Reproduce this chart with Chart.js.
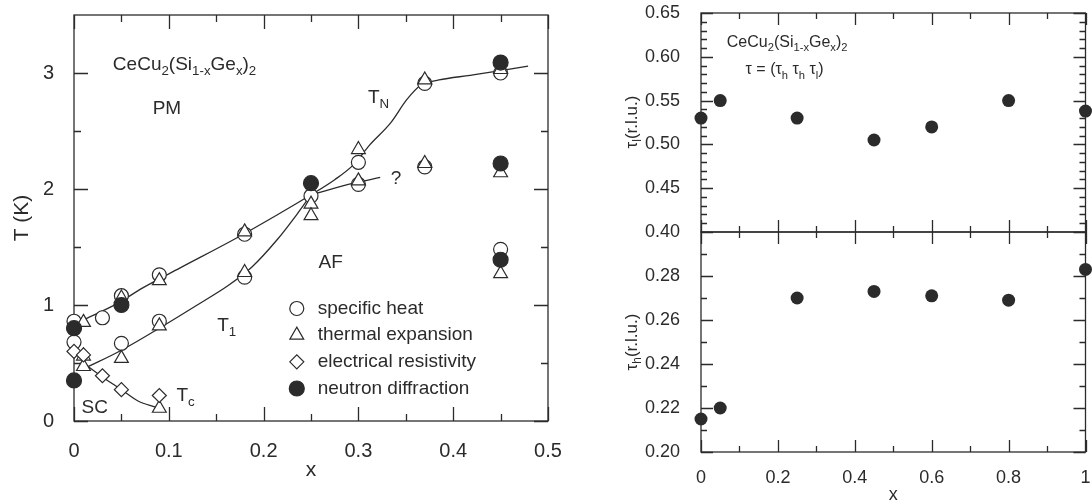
<!DOCTYPE html>
<html>
<head>
<meta charset="utf-8">
<script src="https://cdn.jsdelivr.net/npm/chart.js@4.4.1/dist/chart.umd.min.js"></script>
<style>
  html, body { margin: 0; padding: 0; background: #fff; }
  .wrap { position: relative; width: 1092px; height: 504px; }
  canvas { position: absolute; left: 0; top: 0; }
</style>
</head>
<body>
<div class="wrap">
  <canvas id="phase" width="1092" height="504"></canvas>
  <canvas id="tauL" width="1092" height="504"></canvas>
  <canvas id="tauH" width="1092" height="504"></canvas>
</div>
<script>
const FONT = '"Liberation Sans", Arial, Helvetica, sans-serif';
const INK = '#2b2b2b';

// ---- phase diagram (left) ----
const heatX = [0, 0, 0.03, 0.05, 0.05, 0.09, 0.09, 0.18, 0.18, 0.25, 0.30, 0.30, 0.37, 0.37, 0.45, 0.45];
const heatT = [0.86, 0.68, 0.89, 1.08, 0.67, 1.26, 0.86, 1.61, 1.24, 1.94, 2.23, 2.04, 2.91, 2.19, 3.00, 1.48];

const expX = [0.01, 0.01, 0.01, 0.05, 0.05, 0.09, 0.09, 0.09, 0.18, 0.18, 0.25, 0.25, 0.30, 0.30, 0.37, 0.37, 0.45, 0.45, 0.45];
const expT = [0.85, 0.56, 0.47, 1.06, 0.54, 1.21, 0.82, 0.11, 1.63, 1.28, 1.87, 1.77, 2.34, 2.07, 2.94, 2.22, 3.03, 2.14, 1.27];

const resX = [0, 0.01, 0.03, 0.05, 0.09];
const resT = [0.60, 0.57, 0.39, 0.27, 0.22];

const neutronX = [0, 0, 0.05, 0.25, 0.45, 0.45, 0.45];
const neutronT = [0.80, 0.35, 1.00, 2.05, 3.09, 2.22, 1.39];

// guide lines drawn by hand in the original
const tnX = [0.012, 0.045, 0.073, 0.112, 0.172, 0.215, 0.25, 0.275, 0.295, 0.312, 0.334, 0.351, 0.365, 0.385, 0.418, 0.45, 0.479];
const tnT = [0.88, 1.01, 1.15, 1.32, 1.58, 1.78, 1.95, 2.08, 2.21, 2.38, 2.57, 2.77, 2.89, 2.94, 2.98, 3.02, 3.06];
const t1X = [0.013, 0.05, 0.09, 0.13, 0.163, 0.188, 0.214, 0.235, 0.25];
const t1T = [0.46, 0.61, 0.80, 1.00, 1.17, 1.33, 1.56, 1.78, 1.95];
const qX = [0.25, 0.295, 0.323];
const qT = [1.95, 2.05, 2.10];
const tcX = [0.01, 0.03, 0.05, 0.068, 0.086];
const tcT = [0.50, 0.38, 0.27, 0.17, 0.12];

const phaseXMajor = [0, 0.1, 0.2, 0.3, 0.4, 0.5];
const phaseXLabels = ['0', '0.1', '0.2', '0.3', '0.4', '0.5'];
const phaseXMinor = [0.05, 0.15, 0.25, 0.35, 0.45];
const phaseYMajor = [0, 1, 2, 3];
const phaseYLabels = ['0', '1', '2', '3'];
const phaseYMinor = [0.5, 1.5, 2.5];

// ---- propagation vector (right) ----
const tauX = [0, 0.05, 0.25, 0.45, 0.6, 0.8, 1.0];
const tauL = [0.530, 0.550, 0.530, 0.505, 0.520, 0.550, 0.538];
const tauH = [0.215, 0.220, 0.270, 0.273, 0.271, 0.269, 0.283];

const tauXMajor = [0, 0.2, 0.4, 0.6, 0.8, 1];
const tauXLabels = ['0', '0.2', '0.4', '0.6', '0.8', '1'];
const tauXMinor = [0.1, 0.3, 0.5, 0.7, 0.9];
const tauLMajor = [0.40, 0.45, 0.50, 0.55, 0.60, 0.65];
const tauLLabels = ['0.40', '0.45', '0.50', '0.55', '0.60', '0.65'];
const tauLMinor = [0.41, 0.42, 0.43, 0.44, 0.46, 0.47, 0.48, 0.49, 0.51, 0.52, 0.53, 0.54, 0.56, 0.57, 0.58, 0.59, 0.61, 0.62, 0.63, 0.64];
const tauHMajor = [0.20, 0.22, 0.24, 0.26, 0.28];
const tauHLabels = ['0.20', '0.22', '0.24', '0.26', '0.28'];
const tauHMinor = [0.21, 0.23, 0.25, 0.27, 0.29];

const pts = (xs, ys) => xs.map((x, i) => ({ x, y: ys[i] }));

function fixedSize(size, horizontal) {
    return (scale) => {
        if (horizontal) scale.height = size; else scale.width = size;
        scale.paddingLeft = 0; scale.paddingRight = 0;
        scale.paddingTop = 0; scale.paddingBottom = 0;
    };
}

function setTicks(values) {
    return (scale) => { scale.ticks = values.map(v => ({ value: v })); };
}

function richText(ctx, parts, x, y, size) {
    let cx = x;
    for (const [t, sub] of parts) {
        ctx.font = (sub ? size * 0.7 : size) + 'px ' + FONT;
        ctx.fillText(t, cx, sub ? y + size * 0.35 : y);
        cx += ctx.measureText(t).width;
    }
    return cx - x;
}

function richWidth(ctx, parts, size) {
    let w = 0;
    for (const [t, sub] of parts) {
        ctx.font = (sub ? size * 0.7 : size) + 'px ' + FONT;
        w += ctx.measureText(t).width;
    }
    return w;
}

// frame and inward ticks on all four sides
const framePlugin = {
    id: 'frame',
    beforeDatasetsDraw(chart) {
        const f = chart.options.plugins.frame;
        const { ctx, chartArea: a } = chart;
        const xs = chart.scales.x, ys = chart.scales.y;
        ctx.save();
        ctx.strokeStyle = INK;
        ctx.lineWidth = 1.3;
        ctx.strokeRect(a.left, a.top, a.right - a.left, a.bottom - a.top);
        ctx.beginPath();
        const xt = (vals, len) => vals.forEach(v => {
            const p = Math.round(xs.getPixelForValue(v)) + 0.5;
            ctx.moveTo(p, a.bottom); ctx.lineTo(p, a.bottom - len);
            ctx.moveTo(p, a.top); ctx.lineTo(p, a.top + len);
        });
        const yt = (vals, len) => vals.forEach(v => {
            const p = Math.round(ys.getPixelForValue(v)) + 0.5;
            ctx.moveTo(a.left, p); ctx.lineTo(a.left + len, p);
            ctx.moveTo(a.right, p); ctx.lineTo(a.right - len, p);
        });
        xt(f.xMajor, f.major); xt(f.xMinor, f.minor);
        yt(f.yMajor, f.major); yt(f.yMinor, f.minor);
        ctx.stroke();
        ctx.restore();
    }
};

function marker(ctx, style, x, y, r, fill) {
    ctx.fillStyle = fill;
    ctx.beginPath();
    if (style === 'circle') {
        ctx.arc(x, y, r, 0, Math.PI * 2);
    } else if (style === 'triangle') {
        for (let k = 0; k < 3; k++) {
            const ang = k * 2 * Math.PI / 3;
            const px = x + Math.sin(ang) * r, py = y - Math.cos(ang) * r;
            k ? ctx.lineTo(px, py) : ctx.moveTo(px, py);
        }
        ctx.closePath();
    } else {
        ctx.moveTo(x - r, y); ctx.lineTo(x, y - r); ctx.lineTo(x + r, y); ctx.lineTo(x, y + r);
        ctx.closePath();
    }
    ctx.fill();
    ctx.stroke();
}

const phaseNotes = {
    id: 'phaseNotes',
    afterDatasetsDraw(chart) {
        const { ctx } = chart;
        const X = v => chart.scales.x.getPixelForValue(v);
        const Y = v => chart.scales.y.getPixelForValue(v);
        ctx.save();
        ctx.fillStyle = INK;
        ctx.textBaseline = 'middle';
        ctx.textAlign = 'left';
        richText(ctx, [['CeCu', 0], ['2', 1], ['(Si', 0], ['1-x', 1], ['Ge', 0], ['x', 1], [')', 0], ['2', 1]], X(0.041), Y(3.07), 19);
        richText(ctx, [['PM', 0]], X(0.083), Y(2.69), 19);
        richText(ctx, [['T', 0], ['N', 1]], X(0.31), Y(2.79), 19);
        richText(ctx, [['?', 0]], X(0.334), Y(2.09), 19);
        richText(ctx, [['AF', 0]], X(0.258), Y(1.36), 19);
        richText(ctx, [['T', 0], ['1', 1]], X(0.151), Y(0.82), 19);
        richText(ctx, [['T', 0], ['c', 1]], X(0.108), Y(0.22), 19);
        richText(ctx, [['SC', 0]], X(0.008), Y(0.11), 19);

        // legend
        const rows = [
            ['specific heat', 'circle', 7, '#fff'],
            ['thermal expansion', 'triangle', 8, '#fff'],
            ['electrical resistivity', 'diamond', 7, '#fff'],
            ['neutron diffraction', 'circle', 7.5, INK],
        ];
        const legendT = [0.97, 0.74, 0.51, 0.28];
        ctx.strokeStyle = INK;
        ctx.lineWidth = 1.2;
        rows.forEach((r, i) => {
            const y = Y(legendT[i]);
            marker(ctx, r[1], X(0.235), y, r[2], r[3]);
            ctx.fillStyle = INK;
            ctx.font = '19px ' + FONT;
            ctx.fillText(r[0], X(0.257), y);
        });
        ctx.restore();
    }
};

const lineSet = (xs, ys) => ({
    data: pts(xs, ys), showLine: true, pointRadius: 0, borderColor: INK,
    borderWidth: 1.3, cubicInterpolationMode: 'monotone', fill: false, clip: false
});

const markerSet = (xs, ys, style, r, fill) => ({
    data: pts(xs, ys), pointStyle: style, pointRadius: r, backgroundColor: fill,
    borderColor: INK, pointBorderWidth: 1.2, clip: false
});

new Chart(document.getElementById('phase').getContext('2d'), {
    type: 'scatter',
    data: {
        datasets: [
            markerSet(neutronX, neutronT, 'circle', 7.5, INK),
            markerSet(resX, resT, 'rectRot', 7, '#fff'),
            markerSet(expX, expT, 'triangle', 8, '#fff'),
            markerSet(heatX, heatT, 'circle', 7, '#fff'),
            lineSet(tnX, tnT),
            lineSet(t1X, t1T),
            lineSet(qX, qT),
            lineSet(tcX, tcT),
        ]
    },
    options: {
        responsive: false,
        animation: false,
        events: [],
        layout: { padding: { left: 0, top: 15, right: 544, bottom: 0 } },
        scales: {
            x: {
                type: 'linear', min: 0, max: 0.5,
                afterFit: fixedSize(83, true),
                afterBuildTicks: setTicks(phaseXMajor),
                grid: { display: false }, border: { display: false },
                ticks: { autoSkip: false, maxRotation: 0, padding: 10, color: INK,
                    font: { family: FONT, size: 20 }, callback: (v, i) => phaseXLabels[i] },
                title: { display: true, text: 'x', color: INK, padding: { top: 0, bottom: 21 },
                    font: { family: FONT, size: 21 } }
            },
            y: {
                type: 'linear', min: 0, max: 3.5,
                afterFit: fixedSize(74, false),
                afterBuildTicks: setTicks(phaseYMajor),
                grid: { display: false }, border: { display: false },
                ticks: { autoSkip: false, padding: 12, color: INK,
                    font: { family: FONT, size: 20 }, callback: (v, i) => phaseYLabels[i] },
                title: { display: true, text: 'T (K)', color: INK, padding: { top: 10, bottom: 0 },
                    font: { family: FONT, size: 21 } }
            }
        },
        plugins: {
            legend: { display: false },
            tooltip: { enabled: false },
            frame: { xMajor: phaseXMajor, xMinor: phaseXMinor, yMajor: phaseYMajor, yMinor: phaseYMinor, major: 14, minor: 7 }
        }
    },
    plugins: [framePlugin, phaseNotes]
});

function tauTitle(parts, centerY) {
    return {
        id: 'tauTitle',
        afterDraw(chart) {
            const { ctx } = chart;
            ctx.save();
            ctx.fillStyle = INK;
            ctx.textBaseline = 'middle';
            ctx.textAlign = 'left';
            ctx.translate(632, centerY);
            ctx.rotate(-Math.PI / 2);
            const w = richWidth(ctx, parts, 17);
            richText(ctx, parts, -w / 2, 0, 17);
            ctx.restore();
        }
    };
}

const tauNotes = {
    id: 'tauNotes',
    afterDatasetsDraw(chart) {
        const { ctx } = chart;
        const X = v => chart.scales.x.getPixelForValue(v);
        const Y = v => chart.scales.y.getPixelForValue(v);
        ctx.save();
        ctx.fillStyle = INK;
        ctx.textBaseline = 'middle';
        ctx.textAlign = 'left';
        richText(ctx, [['CeCu', 0], ['2', 1], ['(Si', 0], ['1-x', 1], ['Ge', 0], ['x', 1], [')', 0], ['2', 1]], X(0.067), Y(0.616), 16);
        richText(ctx, [['\u03c4 = (\u03c4', 0], ['h', 1], [' \u03c4', 0], ['h', 1], [' \u03c4', 0], ['l', 1], [')', 0]], X(0.116), Y(0.585), 16);
        ctx.restore();
    }
};

function tauChart(id, values, yMin, yMax, yMajor, yLabels, yMinor, top, xHeight, showX, titleParts, titleY, extra) {
    const plugins = [framePlugin, tauTitle(titleParts, titleY)];
    if (extra) plugins.push(extra);
    return new Chart(document.getElementById(id).getContext('2d'), {
        type: 'scatter',
        data: {
            datasets: [{
                data: pts(tauX, values), pointStyle: 'circle', pointRadius: 6.5,
                backgroundColor: INK, borderColor: INK, pointBorderWidth: 0, clip: false
            }]
        },
        options: {
            responsive: false,
            animation: false,
            events: [],
            layout: { padding: { left: 600, top: top, right: 4, bottom: 0 } },
            scales: {
                x: {
                    type: 'linear', min: 0, max: 1,
                    afterFit: fixedSize(xHeight, true),
                    afterBuildTicks: setTicks(tauXMajor),
                    grid: { display: false }, border: { display: false },
                    ticks: { display: showX, autoSkip: false, maxRotation: 0, padding: 7, color: INK,
                        font: { family: FONT, size: 18 }, callback: (v, i) => tauXLabels[i] },
                    title: { display: showX, text: 'x', color: INK, padding: 0,
                        font: { family: FONT, size: 18, lineHeight: 1 } }
                },
                y: {
                    type: 'linear', min: yMin, max: yMax,
                    afterFit: fixedSize(101, false),
                    afterBuildTicks: setTicks(yMajor),
                    grid: { display: false }, border: { display: false },
                    ticks: { autoSkip: false, padding: 13, color: INK,
                        font: { family: FONT, size: 18 }, callback: (v, i) => yLabels[i] }
                }
            },
            plugins: {
                legend: { display: false },
                tooltip: { enabled: false },
                frame: { xMajor: tauXMajor, xMinor: tauXMinor, yMajor: yMajor, yMinor: yMinor, major: 12, minor: 6 }
            }
        },
        plugins
    });
}

tauChart('tauL', tauL, 0.40, 0.65, tauLMajor, tauLLabels, tauLMinor, 13, 272, false,
    [['\u03c4', 0], ['l', 1], ['(r.l.u.)', 0]], 122, tauNotes);
tauChart('tauH', tauH, 0.20, 0.30, tauHMajor, tauHLabels, tauHMinor, 232, 52, true,
    [['\u03c4', 0], ['h', 1], ['(r.l.u.)', 0]], 342, null);
</script>
</body>
</html>
